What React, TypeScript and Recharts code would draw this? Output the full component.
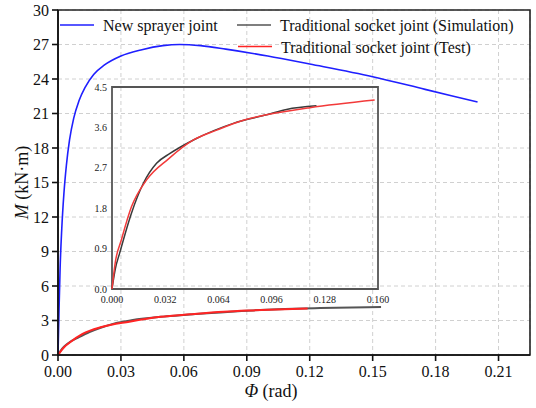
import React from 'react';
import { LineChart, Line, XAxis, YAxis, CartesianGrid, Legend, ReferenceArea, Label } from 'recharts';

const FONT = '"Liberation Serif", "Times New Roman", serif';

// Axis ticks
const phiTicks = [0, 0.03, 0.06, 0.09, 0.12, 0.15, 0.18, 0.21];
const momentTicks = [0, 3, 6, 9, 12, 15, 18, 21, 24, 27, 30];
const insetPhiTicks = [0, 0.032, 0.064, 0.096, 0.128, 0.16];
const insetMomentTicks = [0, 0.9, 1.8, 2.7, 3.6, 4.5];

// New sprayer joint (main chart)
const sprayerPhi = [0, 0.0005, 0.001, 0.0018, 0.0028, 0.004, 0.0055, 0.0075, 0.01, 0.013, 0.017, 0.022, 0.03, 0.04, 0.05, 0.058, 0.068, 0.08, 0.1, 0.12, 0.15, 0.175, 0.2];
const sprayerM = [0, 4, 7.5, 11, 14, 16.5, 18.7, 20.6, 22.1, 23.3, 24.4, 25.2, 26.0, 26.55, 26.9, 27.0, 26.9, 26.6, 26.0, 25.3, 24.2, 23.1, 22.0];

// Traditional socket joint, simulation (main chart)
const simPhi = [0, 0.002, 0.005, 0.01, 0.015, 0.02, 0.027, 0.035, 0.049, 0.06, 0.073, 0.093, 0.105, 0.125, 0.154];
const simM = [0, 0.55, 1.05, 1.55, 2.0, 2.35, 2.75, 3.02, 3.32, 3.47, 3.66, 3.88, 3.98, 4.08, 4.17];

// Traditional socket joint, test (main chart)
const testPhi = [0, 0.003, 0.0056, 0.0117, 0.0208, 0.034, 0.049, 0.063, 0.079, 0.093, 0.119];
const testM = [0, 0.7, 1.09, 1.83, 2.43, 2.9, 3.32, 3.54, 3.76, 3.88, 4.04];

// Inset: simulation
const insetSimPhi = [0, 0.002, 0.0046, 0.0117, 0.0188, 0.0268, 0.0349, 0.049, 0.073, 0.093, 0.105, 0.123];
const insetSimM = [0, 0.45, 0.8, 1.69, 2.35, 2.8, 3.02, 3.32, 3.69, 3.88, 4.0, 4.08];

// Inset: test
const insetTestPhi = [0, 0.002, 0.0056, 0.0117, 0.0208, 0.034, 0.049, 0.063, 0.079, 0.093, 0.119, 0.158];
const insetTestM = [0, 0.6, 1.09, 1.83, 2.43, 2.9, 3.32, 3.54, 3.76, 3.88, 4.04, 4.21];

const zip = (xs: number[], ys: number[]) => xs.map((x, i) => ({ phi: x, m: ys[i] }));

const sprayerData = zip(sprayerPhi, sprayerM);
const simData = zip(simPhi, simM);
const testData = zip(testPhi, testM);
const insetSimData = zip(insetSimPhi, insetSimM);
const insetTestData = zip(insetTestPhi, insetTestM);

const BLUE = '#1f1fff';
const GRAY = '#555555';
const RED = '#ff2424';

const legendSlots: Record<string, { x: number; y: number }> = {
  'New sprayer joint': { x: 60, y: 25 },
  'Traditional socket joint (Simulation)': { x: 237, y: 25 },
  'Traditional socket joint (Test)': { x: 238, y: 46.5 },
};

const renderLegend = (props: any) => {
  const payload = props.payload || [];
  return (
    <svg width={536} height={60} style={{ display: 'block', overflow: 'visible' }}>
      {payload.map((entry: any) => {
        const slot = legendSlots[entry.value];
        if (!slot) return null;
        return (
          <g key={entry.value}>
            <line x1={slot.x} x2={slot.x + 34} y1={slot.y} y2={slot.y} stroke={entry.color} strokeWidth={1.6} />
            <text x={slot.x + 43} y={slot.y + 6} fontFamily={FONT} fontSize={16} fill="#111">
              {entry.value}
            </text>
          </g>
        );
      })}
    </svg>
  );
};

const YTitle = (props: any) => {
  const vb = props.viewBox || {};
  const cx = 22;
  const cy = (vb.y ?? 10) + (vb.height ?? 345) / 2;
  return (
    <text x={cx} y={cy} transform={`rotate(-90, ${cx}, ${cy})`} textAnchor="middle" dominantBaseline="central" fontFamily={FONT} fontSize={18} fill="#111">
      <tspan fontStyle="italic">M</tspan>
      <tspan> (kN·m)</tspan>
    </text>
  );
};

const XTitle = () => (
  <text x={271} y={397} textAnchor="middle" fontFamily={FONT} fontSize={18} fill="#111">
    <tspan fontStyle="italic">Φ</tspan>
    <tspan> (rad)</tspan>
  </text>
);

export default function App() {
  return (
    <div style={{ position: 'absolute', left: 0, top: 0, width: 536, height: 408, background: '#fff' }}>
      <LineChart width={536} height={408} margin={{ top: 10, right: 6, left: 0, bottom: 0 }}>
        <CartesianGrid stroke="#d0d0d0" strokeDasharray="4 3" strokeWidth={1} />
        <XAxis
          type="number"
          dataKey="phi"
          domain={[0, 0.225]}
          ticks={phiTicks}
          tickFormatter={(v: number) => v.toFixed(2)}
          height={53}
          tickSize={6}
          tickMargin={5}
          stroke="#111"
          strokeWidth={1.6}
          tick={{ fontFamily: FONT, fontSize: 16, fill: '#111' }}
          allowDataOverflow
        >
          <Label content={<XTitle />} />
        </XAxis>
        <YAxis
          type="number"
          dataKey="m"
          domain={[0, 30]}
          ticks={momentTicks}
          width={58}
          tickSize={6}
          tickMargin={3}
          stroke="#111"
          strokeWidth={1.6}
          tick={{ fontFamily: FONT, fontSize: 16, fill: '#111' }}
          allowDataOverflow
        >
          <Label content={<YTitle />} />
        </YAxis>
        <ReferenceArea x1={0} x2={0.225} y1={0} y2={30} fill="none" stroke="#222" strokeWidth={1.6} ifOverflow="visible" />
        <Line data={sprayerData} dataKey="m" name="New sprayer joint" type="monotone" stroke={BLUE} strokeWidth={1.6} dot={false} isAnimationActive={false} />
        <Line data={simData} dataKey="m" name="Traditional socket joint (Simulation)" type="monotone" stroke={GRAY} strokeWidth={2} dot={false} isAnimationActive={false} />
        <Line data={testData} dataKey="m" name="Traditional socket joint (Test)" type="monotone" stroke={RED} strokeWidth={2} dot={false} isAnimationActive={false} />
        <Legend
          layout="horizontal"
          verticalAlign="middle"
          align="center"
          content={renderLegend}
          wrapperStyle={{ left: 0, top: 0, width: 536, height: 60 }}
        />
      </LineChart>

      <div style={{ position: 'absolute', left: 0, top: 0 }}>
        <LineChart width={536} height={408} margin={{ top: 87, right: 158, left: 82, bottom: 99 }}>
          <XAxis
            type="number"
            dataKey="phi"
            domain={[0, 0.16]}
            ticks={insetPhiTicks}
            tickFormatter={(v: number) => v.toFixed(3)}
            height={20}
            tickLine={false}
            axisLine={false}
            tickSize={0}
            tickMargin={7}
            tick={{ fontFamily: FONT, fontSize: 10, fill: '#222' }}
            interval={0}
          />
          <YAxis
            type="number"
            dataKey="m"
            domain={[0, 4.5]}
            ticks={insetMomentTicks}
            tickFormatter={(v: number) => v.toFixed(1)}
            width={30}
            tickLine={false}
            axisLine={false}
            tickSize={0}
            tickMargin={5}
            tick={{ fontFamily: FONT, fontSize: 10, fill: '#222' }}
            interval={0}
          />
          <ReferenceArea x1={0} x2={0.16} y1={0} y2={4.5} fill="none" stroke="#555" strokeWidth={1.8} ifOverflow="visible" />
          <Line data={insetSimData} dataKey="m" name="Simulation" type="monotone" stroke="#3a3a3a" strokeWidth={1.5} dot={false} isAnimationActive={false} />
          <Line data={insetTestData} dataKey="m" name="Test" type="monotone" stroke="#f23a3a" strokeWidth={1.5} dot={false} isAnimationActive={false} />
        </LineChart>
      </div>
    </div>
  );
}
